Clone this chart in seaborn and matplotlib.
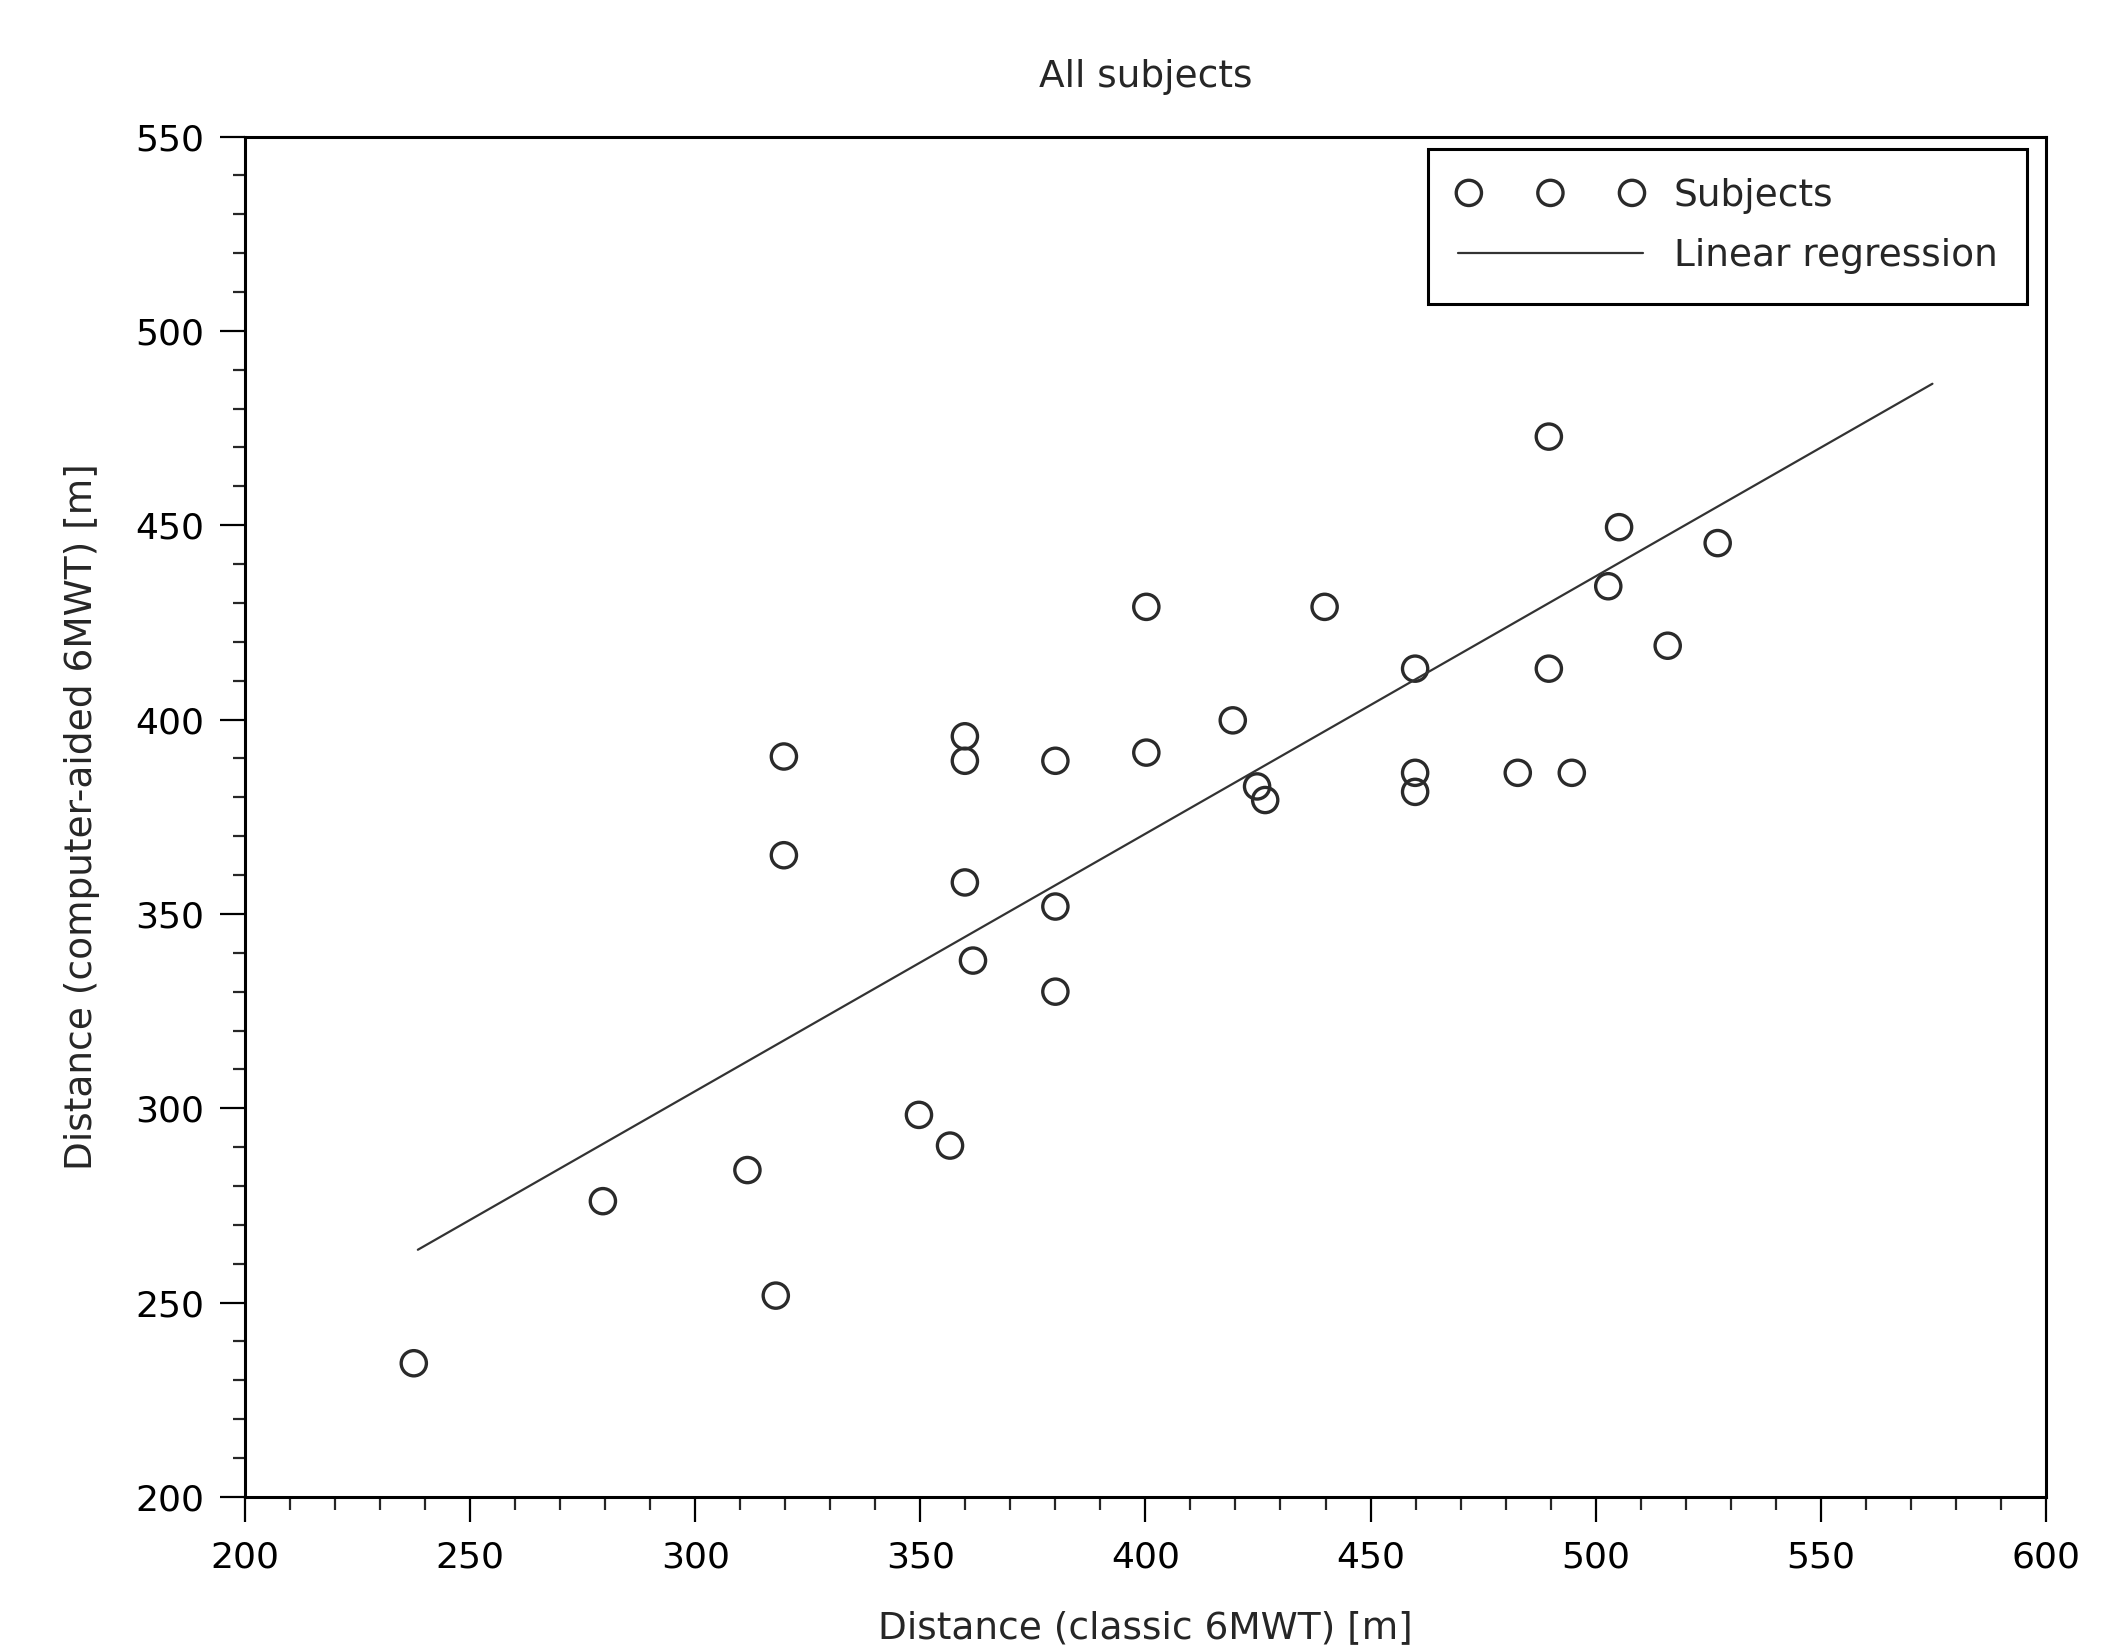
import numpy as np
import pandas as pd
import seaborn as sns
import matplotlib
matplotlib.use("Agg")
from matplotlib import pyplot as plt
from matplotlib.ticker import MultipleLocator

# values
classic_6mwt = [237.5, 279.5, 311.6, 317.9, 319.7, 319.7, 349.7, 356.6, 359.9, 359.9, 359.9,
                361.7, 380.0, 380.0, 380.0, 400.2, 400.2, 419.4, 424.8, 426.6, 439.8, 459.9,
                459.9, 459.9, 482.7, 489.6, 489.6, 494.7, 502.8, 505.2, 516.0, 527.1]
computer_6mwt = [234.4, 276.1, 284.1, 251.8, 390.5, 365.1, 298.3, 290.4, 395.7, 389.4, 358.1,
                 338.0, 389.4, 351.9, 330.0, 429.0, 391.5, 399.8, 382.8, 379.3, 429.0, 413.1,
                 386.3, 381.4, 386.3, 472.8, 413.1, 386.3, 434.3, 449.5, 419.0, 445.4]

# regression line as drawn (start / end)
fit_x = [238.4, 574.8]
fit_y = [263.6, 486.4]

df = pd.DataFrame({"classic": classic_6mwt, "computer": computer_6mwt})
fit = pd.DataFrame({"x": fit_x, "y": fit_y})

sns.set_style("white")
plt.rcParams["font.family"] = ["DejaVu Sans"]
plt.rcParams["font.size"] = 27

fig = plt.figure(figsize=(21.19, 16.47), dpi=100)
ax = fig.add_axes([0.1156, 0.0911, 0.8499, 0.8260])

sns.scatterplot(data=df, x="classic", y="computer", ax=ax, marker="o", s=330,
                facecolor="none", edgecolor="#2a2a2a", linewidth=2.4, label="Subjects")
sns.lineplot(data=fit, x="x", y="y", ax=ax, color="#333333", linewidth=1.6,
             label="Linear regression")

ax.set_xlim(200, 600)
ax.set_ylim(200, 550)
ax.xaxis.set_major_locator(MultipleLocator(50))
ax.xaxis.set_minor_locator(MultipleLocator(10))
ax.yaxis.set_major_locator(MultipleLocator(50))
ax.yaxis.set_minor_locator(MultipleLocator(10))
ax.tick_params(which="major", direction="out", length=18, width=1.6, labelsize=26,
               bottom=True, left=True, top=False, right=False, colors="black")
ax.tick_params(which="minor", direction="out", length=9, width=1.6,
               bottom=True, left=True, top=False, right=False)
ax.tick_params(axis="x", which="major", pad=13)
ax.tick_params(axis="y", which="major", pad=11)
for sp in ax.spines.values():
    sp.set_linewidth(2.2)
    sp.set_color("black")

ax.set_title("All subjects", fontsize=27, pad=36)
ax.set_xlabel("Distance (classic 6MWT) [m]", fontsize=27, labelpad=26)
ax.set_ylabel("Distance (computer-aided 6MWT) [m]", fontsize=27, labelpad=26)

leg = ax.legend(loc="upper right", bbox_to_anchor=(0.9895, 0.991), borderaxespad=0,
                scatterpoints=3, scatteryoffsets=[0.5], handlelength=4.95,
                handletextpad=0.82, fontsize=27, labelspacing=0.65, borderpad=0.78,
                fancybox=False, framealpha=1)
leg.get_frame().set_edgecolor("black")
leg.get_frame().set_linewidth(2.2)

fig.savefig("out.png", dpi=100)
